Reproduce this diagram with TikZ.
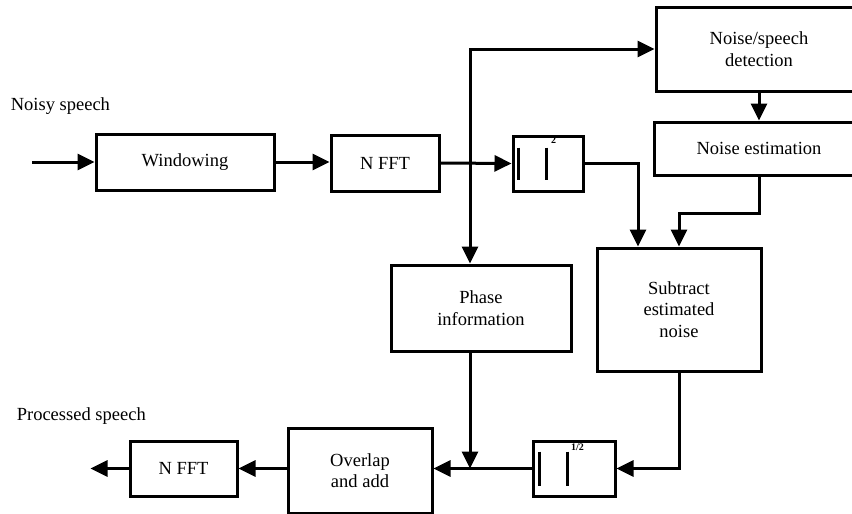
\documentclass[tikz,border=0pt]{standalone}
\usepackage{fontspec}
\setmainfont{Liberation Serif}
\usepackage{tikz}
\usetikzlibrary{arrows.meta, positioning, calc}

\begin{document}
\begin{tikzpicture}[
        x=1pt, y=-1pt,
        >={Triangle[length=17pt, width=16pt]},
        line width=3pt,
        block/.style={draw, black, line width=3pt, align=center, inner sep=0pt,
            font=\fontsize{18.5}{21.5}\selectfont},
        flow/.style={->, line width=3pt, black},
        bar/.style={line width=2.8pt, black},
        label_text/.style={font=\fontsize{18.5}{21.5}\selectfont, anchor=west},
        exponent/.style={font=\fontsize{10}{10}\selectfont\bfseries, inner sep=0pt}
        ]
        \useasboundingbox (0,0) rectangle (852,514);

        % Upper chain
        \node[label_text] (noisy) at (6,106) {Noisy speech};
        \coordinate (in) at (32,162);
        \node[block, minimum width=178pt, minimum height=56pt] (win) at (185,162) {Windowing};
        \node[block, minimum width=108pt, minimum height=56pt] (fftin) at (385,163) {N FFT};
        \node[block, minimum width=70pt, minimum height=55pt] (sq) at (548,163.5) {};
        \draw[bar] ([xshift=7pt,yshift=16pt]sq.west) -- ([xshift=7pt,yshift=-16pt]sq.west);
        \draw[bar] ([xshift=35pt,yshift=16pt]sq.west) -- ([xshift=35pt,yshift=-16pt]sq.west);
        \node[exponent] at ([xshift=42pt,yshift=-6pt]sq.north west) {2};

        % Noise branch
        \node[block, minimum width=206pt, minimum height=84pt] (detect) at (759,49) {Noise/speech\\detection};
        \node[block, minimum width=210pt, minimum height=53pt] (est) at (759,148.5) {Noise estimation};
        \node[block, minimum width=164pt, minimum height=123pt] (sub) at (679,309.5) {Subtract\\estimated\\noise};
        \node[block, minimum width=180pt, minimum height=86pt] (phase) at (481,308) {Phase\\information};

        % Lower chain
        \node[block, minimum width=82pt, minimum height=55pt] (sqrt) at (574,468.5) {};
        \draw[bar] ([xshift=8pt,yshift=17pt]sqrt.west) -- ([xshift=8pt,yshift=-17pt]sqrt.west);
        \draw[bar] ([xshift=36pt,yshift=17pt]sqrt.west) -- ([xshift=36pt,yshift=-17pt]sqrt.west);
        \node[exponent] at ([xshift=46pt,yshift=-8pt]sqrt.north west) {1/2};
        \node[block, minimum width=144pt, minimum height=85pt] (ola) at (360,470.5) {Overlap\\and add};
        \node[block, minimum width=107pt, minimum height=55pt] (fftout) at (183.5,468.5) {N FFT};
        \node[label_text] (processed) at (12,416) {Processed speech};

        % Junctions
        \coordinate (j1) at (470,163);
        \coordinate (j2) at (470,468.5);

        % Connections
        \draw[flow] (in) -- (win.west);
        \draw[flow] (win.east) -- (win.east -| fftin.west);
        \draw[flow] (fftin.east) -- (sq.west);
        \draw[flow] (j1) |- (detect.west);
        \draw[flow] (j1) -- (j1 |- phase.north);
        \draw[flow] (detect.south) -- (est.north);
        \draw[flow] (sq.east) -| ([xshift=-41pt]sub.north);
        \draw[flow] (est.south) -- ++(0,37) -| (sub.north);
        \draw[flow] (sub.south) |- (sqrt.east);
        \draw[flow] (phase.south -| j1) -- (j2);
        \draw[flow] (sqrt.west) -- (sqrt.west -| ola.east);
        \draw[flow] (ola.west |- fftout.east) -- (fftout.east);
        \draw[flow] (fftout.west) -- ++(-38,0);

\end{tikzpicture}
\end{document}
